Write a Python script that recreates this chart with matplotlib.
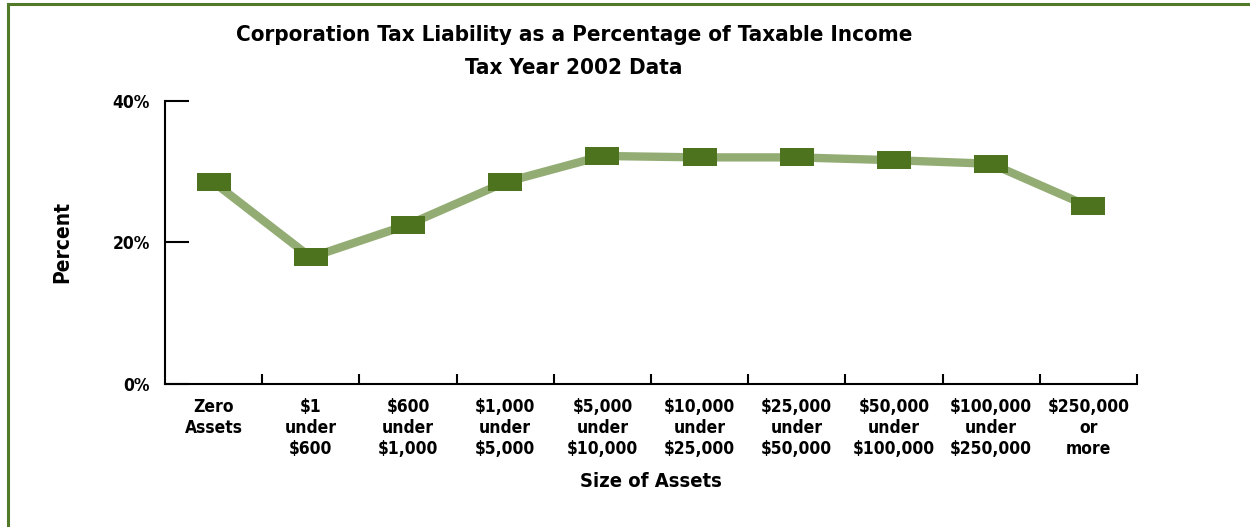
#!/usr/bin/env python3
# coding: utf-8

"""Corporation tax liability as a percentage of taxable income, 2002."""

import matplotlib
matplotlib.use("Agg")
import matplotlib.pyplot as plt
from matplotlib.lines import Line2D
import numpy as np

categories = [
    "Zero\nAssets",
    "$1\nunder\n$600",
    "$600\nunder\n$1,000",
    "$1,000\nunder\n$5,000",
    "$5,000\nunder\n$10,000",
    "$10,000\nunder\n$25,000",
    "$25,000\nunder\n$50,000",
    "$50,000\nunder\n$100,000",
    "$100,000\nunder\n$250,000",
    "$250,000\nor\nmore",
]
percent = [28.5, 17.9, 22.5, 28.5, 32.2, 32.0, 32.0, 31.6, 31.1, 25.1]
y_ticks = [0, 20, 40]
y_tick_labels = ["0%", "20%", "40%"]

# condensed bold face, closest thing to the original's narrow type
plt.rcParams["font.family"] = ["DejaVu Sans"]
plt.rcParams["font.stretch"] = "condensed"
plt.rcParams["font.weight"] = "bold"

dark_green = "#4e731f"
light_green = "#93ac74"

fig = plt.figure(figsize=(12.5, 5.27), dpi=100)
ax = fig.add_axes([0.132, 0.2708, 0.7776, 0.5382])

x = np.arange(len(categories))
rect = [(-1, -0.5), (1, -0.5), (1, 0.5), (-1, 0.5), (-1, -0.5)]
ax.plot(x, percent, color=light_green, lw=6, solid_capstyle="butt", zorder=2)
ax.plot(x, percent, ls="none", marker=rect, ms=25, mew=0, mfc=dark_green, zorder=3)

ax.set_xlim(-0.5, len(categories) - 0.5)
ax.set_ylim(0, 40)

ax.set_xticks(np.arange(0.5, len(categories), 1))
ax.set_xticklabels([])
ax.set_xticks(x, minor=True)
ax.set_xticklabels(categories, minor=True, fontsize=12.5, fontweight="bold", linespacing=1.22)
ax.tick_params(axis="x", which="major", direction="in", length=7, width=1.5)
ax.tick_params(axis="x", which="minor", length=0, pad=10)

ax.set_yticks(y_ticks)
ax.set_yticklabels(y_tick_labels, fontsize=12.5, fontweight="bold")
ax.tick_params(axis="y", direction="in", length=17, width=1.5, pad=11)

for side in ("top", "right"):
    ax.spines[side].set_visible(False)
for side in ("left", "bottom"):
    ax.spines[side].set_linewidth(1.5)

ax.set_xlabel("Size of Assets", fontsize=14.5, fontweight="bold", labelpad=10)
ax.set_ylabel("Percent", fontsize=15, fontweight="bold", labelpad=29)

fig.text(0.459, 0.934, "Corporation Tax Liability as a Percentage of Taxable Income",
         ha="center", va="center", fontsize=16, fontweight="bold")
fig.text(0.459, 0.871, "Tax Year 2002 Data",
         ha="center", va="center", fontsize=16, fontweight="bold")

# green frame on the left and top edges
border = "#507a27"
fig.add_artist(Line2D([0.0066, 0.0066], [0.0, 0.9924], color=border, lw=2.2))
fig.add_artist(Line2D([0.0066, 1.0], [0.9924, 0.9924], color=border, lw=2.2))

fig.savefig("out.png", dpi=100)
